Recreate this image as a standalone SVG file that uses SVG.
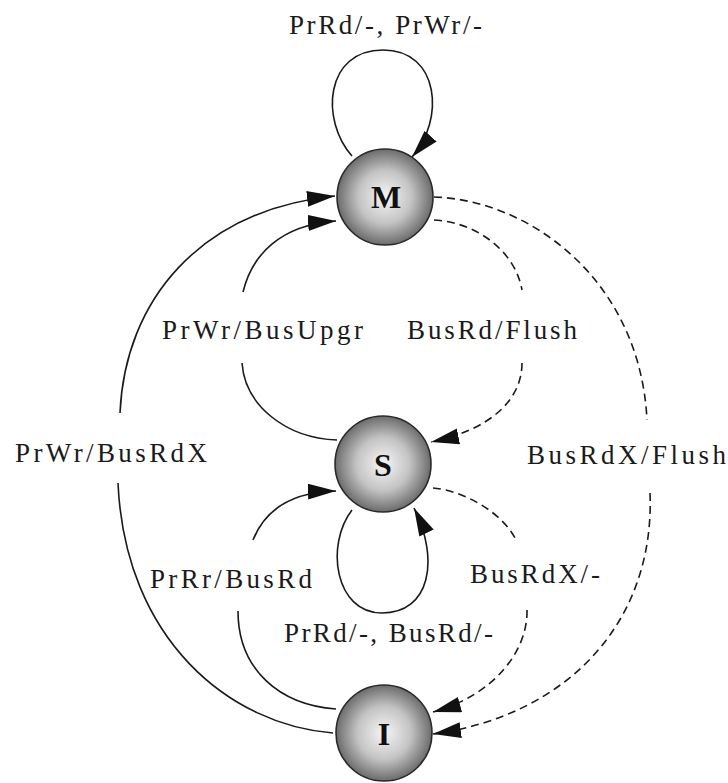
<svg xmlns="http://www.w3.org/2000/svg" width="728" height="783" viewBox="0 0 728 783">
<defs>
<radialGradient id="ball" cx="50%" cy="50%" r="50%">
<stop offset="0" stop-color="#f6f6f6"/>
<stop offset="0.55" stop-color="#c4c4c4"/>
<stop offset="1" stop-color="#6c6c6c"/>
</radialGradient>
<marker id="arr" markerUnits="userSpaceOnUse" markerWidth="30" markerHeight="18" refX="28" refY="8" orient="auto">
<path d="M0,0 L28,8 L0,16 z" fill="#111"/>
</marker>
<style>
.state{fill:url(#ball);stroke:#2a2a2a;stroke-width:1.6}
.sl{font-family:"Liberation Serif","Times New Roman",serif;font-weight:bold;font-size:32px;fill:#111;text-anchor:middle}
.lbl{font-family:"Liberation Serif","Times New Roman",serif;font-size:27px;fill:#1a1a1a}
.e{fill:none;stroke:#1a1a1a;stroke-width:1.6}
.d{stroke-dasharray:8 5}
</style>
</defs>
<rect width="728" height="783" fill="#ffffff"/>

<g id="connectors">
<path class="e" d="M352 156 C320 120 325 50 383 50 C440 50 445 120 412 157" marker-end="url(#arr)"/>
<path class="e" d="M333 733 C230 725 125 640 118 483 M120 413 C125 300 200 210 335 196" marker-end="url(#arr)"/>
<path class="e" d="M337 440 C285 438 245 405 242 363 M243 292 C252 255 280 225 336 221" marker-end="url(#arr)"/>
<path class="e d" d="M434 220 C475 222 515 250 522 290 M522 363 C522 400 490 430 431 442" marker-end="url(#arr)"/>
<path class="e d" d="M434 197 C530 200 640 280 647 420 M650 493 C655 620 570 715 433 734" marker-end="url(#arr)"/>
<path class="e d" d="M433 488 C460 490 500 510 515 538 M527 610 C528 650 495 695 433 712" marker-end="url(#arr)"/>
<path class="e" d="M336 709 C280 705 238 670 238 611 M253 540 C265 510 290 492 336 491" marker-end="url(#arr)"/>
<path class="e" d="M352 510 C325 545 335 613 382 613 C430 613 440 560 414 508" marker-end="url(#arr)"/>
</g>

<g id="labels">
<text class="lbl" x="289" y="34" textLength="193" lengthAdjust="spacing">PrRd/-, PrWr/-</text>
<text class="lbl" x="162" y="339" textLength="201" lengthAdjust="spacing">PrWr/BusUpgr</text>
<text class="lbl" x="407" y="339" textLength="170" lengthAdjust="spacing">BusRd/Flush</text>
<text class="lbl" x="15" y="462" textLength="192" lengthAdjust="spacing">PrWr/BusRdX</text>
<text class="lbl" x="527" y="464" textLength="199" lengthAdjust="spacing">BusRdX/Flush</text>
<text class="lbl" x="150" y="588" textLength="162" lengthAdjust="spacing">PrRr/BusRd</text>
<text class="lbl" x="470" y="583" textLength="130" lengthAdjust="spacing">BusRdX/-</text>
<text class="lbl" x="284" y="642" textLength="209" lengthAdjust="spacing">PrRd/-, BusRd/-</text>
</g>

<g id="node-M">
<circle class="state" cx="385" cy="197" r="48"/>
<text class="sl" x="386" y="208">M</text>
</g>
<g id="node-S">
<circle class="state" cx="383" cy="464" r="48"/>
<text class="sl" x="383" y="476">S</text>
</g>
<g id="node-I">
<circle class="state" cx="384" cy="733" r="48"/>
<text class="sl" x="384" y="745">I</text>
</g>
</svg>
